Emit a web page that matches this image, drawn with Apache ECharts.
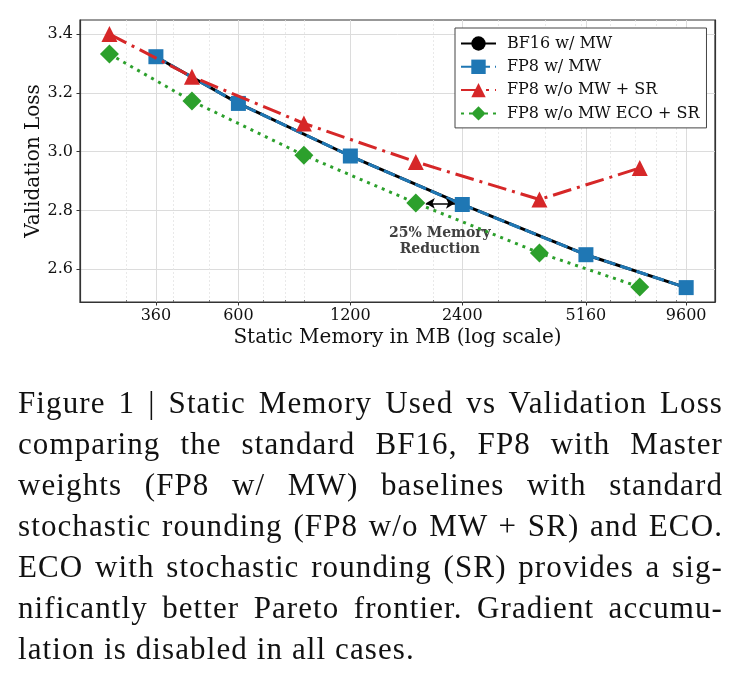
<!DOCTYPE html>
<html>
<head>
<meta charset="utf-8">
<script src="https://cdn.jsdelivr.net/npm/echarts@6/dist/echarts.min.js"></script>
<style>
    html, body { margin: 0; padding: 0; background: #fff; }
    #wrap { position: relative; width: 744px; height: 681px; }
    #chart { position: absolute; left: 0; top: 0; width: 744px; height: 681px; }
    #caption {
        position: absolute; left: 18px; top: 382px; width: 705px;
        font-family: 'Liberation Serif', serif; font-size: 31px; line-height: 41px;
        letter-spacing: 1.1px; color: #111;
    }
    #caption div { white-space: nowrap; text-align: justify; text-align-last: justify; }
    #caption div.last { text-align-last: left; }
</style>
</head>
<body>
<div id="wrap">
    <div id="chart"></div>
    <div id="caption">
        <div>Figure 1 | Static Memory Used vs Validation Loss</div>
        <div>comparing the standard BF16, FP8 with Master</div>
        <div>weights (FP8 w/ MW) baselines with standard</div>
        <div>stochastic rounding (FP8 w/o MW + SR) and ECO.</div>
        <div>ECO with stochastic rounding (SR) provides a sig-</div>
        <div>nificantly better Pareto frontier. Gradient accumu-</div>
        <div class="last">lation is disabled in all cases.</div>
    </div>
</div>
<script type="text/javascript">

    // 数据
    var seriesNames = ['BF16 w/ MW', 'FP8 w/ MW', 'FP8 w/o MW + SR', 'FP8 w/o MW ECO + SR'];
    var memBase = [360, 600, 1200, 2400, 5160, 9600];
    var memSR = [270, 450, 900, 1800, 3870, 7200];
    var lossBF16 = [3.323, 3.164, 2.985, 2.820, 2.649, 2.537];
    var lossFP8MW = [3.323, 3.164, 2.985, 2.820, 2.649, 2.537];
    var lossSR = [3.400, 3.255, 3.096, 2.965, 2.837, 2.944];
    var lossECO = [3.332, 3.172, 2.988, 2.825, 2.655, 2.539];

    var xTicks = [360, 600, 1200, 2400, 5160, 9600];
    var xMinor = [300, 400, 500, 700, 800, 900, 2000, 3000, 4000, 5000, 6000, 7000, 8000, 9000];
    var yTicks = [2.6, 2.8, 3.0, 3.2, 3.4];

    // 注释
    var arrowFrom = [1915, 2.824];
    var arrowTo = [2293, 2.824];
    var noteAt = [2089, 2.695];
    var noteText = '25% Memory\nReduction';

    function pairs(xs, ys) {
        return xs.map(function (x, i) { return [x, ys[i]]; });
    }

    var font = 'DejaVu Serif';
    var chart = echarts.init(document.getElementById('chart'));

    var option = {
        animation: false,
        textStyle: { fontFamily: font },
        grid: { left: 80, top: 20, right: 29, bottom: 379, containLabel: false },
        legend: {
            orient: 'vertical',
            left: 455,
            top: 28,
            padding: [7, 7, 6, 5],
            itemWidth: 35,
            itemHeight: 18,
            itemGap: 6.3,
            borderColor: '#444',
            borderWidth: 1,
            backgroundColor: '#fff',
            textStyle: { fontFamily: font, fontSize: 16, lineHeight: 17, color: '#111', padding: [0, 0, 0, 6] },
            data: seriesNames
        },
        xAxis: [{
            type: 'log',
            logBase: 10,
            min: 225,
            max: 11475,
            name: 'Static Memory in MB (log scale)',
            nameLocation: 'middle',
            nameGap: 26,
            nameTextStyle: { fontFamily: font, fontSize: 20, color: '#111' },
            axisLine: { show: true, lineStyle: { color: '#333', width: 1.2 } },
            axisTick: { show: true, inside: false, length: 3.5, customValues: xTicks, lineStyle: { color: '#333' } },
            axisLabel: {
                customValues: xTicks, margin: 6, fontFamily: font, fontSize: 16, color: '#111',
                formatter: function (v) { return String(Math.round(v)); }
            },
            splitLine: { show: true, lineStyle: { color: '#dcdcdc', width: 1 } }
        }, {
            type: 'log',
            logBase: 10,
            min: 225,
            max: 11475,
            position: 'bottom',
            axisLine: { show: false },
            axisLabel: { show: false },
            axisTick: { show: true, inside: true, length: 2, customValues: xMinor, lineStyle: { color: '#555', width: 0.8 } },
            splitLine: { show: true, lineStyle: { color: '#e4e4e4', width: 0.8, type: [2, 2] } }
        }],
        yAxis: [{
            type: 'value',
            min: 2.488,
            max: 3.448,
            name: 'Validation Loss',
            nameLocation: 'middle',
            nameGap: 36,
            nameMoveOverlap: false,
            nameTextStyle: { fontFamily: font, fontSize: 20, color: '#111' },
            axisLine: { show: true, lineStyle: { color: '#333', width: 1.2 } },
            axisTick: { show: true, inside: false, length: 3.5, customValues: yTicks, lineStyle: { color: '#333' } },
            axisLabel: {
                customValues: yTicks, margin: 7, fontFamily: font, fontSize: 16, color: '#111',
                formatter: function (v) { return v.toFixed(1); }
            },
            splitLine: { show: true, lineStyle: { color: '#dcdcdc', width: 1 } }
        }, {
            type: 'value',
            min: 2.488,
            max: 3.448,
            position: 'right',
            axisLine: { show: true, lineStyle: { color: '#333', width: 1.2 } },
            axisTick: { show: false },
            axisLabel: { show: false },
            splitLine: { show: false }
        }],
        graphic: [{
            type: 'rect',
            shape: { x: 80, y: 20, width: 635, height: 282 },
            style: { fill: 'none', stroke: '#333', lineWidth: 1.2 },
            silent: true,
            z: 0
        }],
        series: [{
            name: seriesNames[0],
            type: 'line',
            data: pairs(memBase, lossBF16),
            symbol: 'circle',
            symbolSize: 12,
            itemStyle: { color: '#000' },
            lineStyle: { color: '#000', width: 3, type: 'solid' },
            z: 2
        }, {
            name: seriesNames[1],
            type: 'line',
            data: pairs(memBase, lossFP8MW),
            symbol: 'rect',
            symbolSize: 15,
            itemStyle: { color: '#1f77b4' },
            lineStyle: { color: '#1f77b4', width: 3, type: [12, 5] },
            z: 3
        }, {
            name: seriesNames[2],
            type: 'line',
            data: pairs(memSR, lossSR),
            symbol: 'triangle',
            symbolSize: 16,
            itemStyle: { color: '#d62728' },
            lineStyle: { color: '#d62728', width: 3, type: [19, 6, 3, 6] },
            z: 4
        }, {
            name: seriesNames[3],
            type: 'line',
            data: pairs(memSR, lossECO),
            symbol: 'diamond',
            symbolSize: 19,
            itemStyle: { color: '#2ca02c' },
            lineStyle: { color: '#2ca02c', width: 3, type: [3, 5] },
            z: 5,
            markLine: {
                silent: true,
                symbol: ['arrow', 'arrow'],
                symbolSize: [8, 9],
                lineStyle: { color: '#000', width: 1.5, type: 'solid' },
                label: { show: false },
                data: [[{ coord: arrowFrom }, { coord: arrowTo }]]
            },
            markPoint: {
                silent: true,
                symbol: 'circle',
                symbolSize: 0,
                label: {
                    show: true,
                    position: 'inside',
                    formatter: noteText,
                    fontFamily: font,
                    fontSize: 14,
                    fontWeight: 'bold',
                    lineHeight: 16,
                    align: 'center',
                    color: '#404040'
                },
                data: [{ coord: noteAt }]
            }
        }]
    };

    chart.setOption(option);

</script>
</body>
</html>
